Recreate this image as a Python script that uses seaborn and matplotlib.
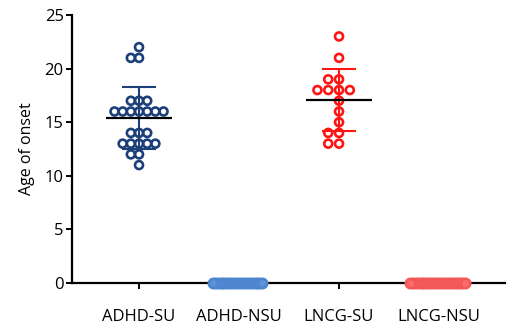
import numpy as np
import pandas as pd
import matplotlib
matplotlib.use("Agg")
import matplotlib.pyplot as plt
import seaborn as sns

# Age of onset per participant, by group
groups = ["ADHD-SU", "ADHD-NSU", "LNCG-SU", "LNCG-NSU"]
adhd_su = [22, 21, 21, 17, 17, 17, 16, 16, 16, 16, 16, 16, 16,
           14, 14, 14, 13, 13, 13, 13, 13, 12, 12, 11]
adhd_nsu = [0, 0, 0, 0, 0, 0, 0, 0, 0, 0, 0, 0, 0, 0, 0, 0, 0, 0]
lncg_su = [23, 21, 19, 19, 18, 18, 18, 18, 17, 16, 15, 14, 14, 13, 13]
lncg_nsu = [0, 0, 0, 0, 0, 0, 0, 0, 0, 0, 0, 0, 0, 0, 0, 0, 0, 0, 0, 0]
y_ticks = [0, 5, 10, 15, 20, 25]

values = {"ADHD-SU": adhd_su, "ADHD-NSU": adhd_nsu,
          "LNCG-SU": lncg_su, "LNCG-NSU": lncg_nsu}
df = pd.DataFrame([(g, v) for g in groups for v in values[g]],
                  columns=["group", "age"])

edge_col = {"ADHD-SU": "#1c3f7a", "ADHD-NSU": "#4d86cf",
            "LNCG-SU": "#ff1414", "LNCG-NSU": "#f25858"}
face_col = {"ADHD-SU": "none", "ADHD-NSU": "#5b92d8",
            "LNCG-SU": "none", "LNCG-NSU": "#ff6b6b"}
# swarm spacing (points) used only to lay out the dots
layout_size = {"ADHD-SU": 5.6, "ADHD-NSU": 2.0,
               "LNCG-SU": 7.4, "LNCG-NSU": 2.0}
# final marker area (points^2)
marker_area = {"ADHD-SU": 33, "ADHD-NSU": 45,
               "LNCG-SU": 33, "LNCG-NSU": 45}

sns.set_theme(style="ticks")
plt.rcParams["font.family"] = ["Open Sans", "DejaVu Sans"]

fig = plt.figure(figsize=(5.09, 3.24), dpi=100)
ax = fig.add_axes([0.1415, 0.1265, 0.8507, 0.8272])

colls = {}
for g in groups:
    n_before = len(ax.collections)
    sns.swarmplot(data=df[df.group == g], x="group", y="age", order=groups,
                  color=edge_col[g], size=layout_size[g], linewidth=0,
                  warn_thresh=1, ax=ax)
    new = [c for c in ax.collections[n_before:] if len(c.get_offsets()) > 0]
    colls[g] = new

ax.set_xlim(-0.67, 3.66)
ax.set_ylim(0, 25)
ax.set_yticks(y_ticks)

# run the swarm layout once, then restyle the dots with their final size
fig.canvas.draw()
for g, cs in colls.items():
    for c in cs:
        if "draw" in vars(c):
            del c.draw
        c.set_sizes([marker_area[g]])
        c.set_linewidths([1.9])
        c.set_edgecolor(edge_col[g])
        c.set_facecolor(face_col[g])
        c.set_clip_on(False)
        c.set_zorder(3)

# mean with SD error bars
for i, g in enumerate(groups):
    v = np.asarray(values[g], dtype=float)
    m, sd = v.mean(), v.std(ddof=1)
    if sd == 0:
        continue
    ax.vlines(i, m - sd, m + sd, color=edge_col[g], lw=1.5, zorder=4)
    ax.hlines([m - sd, m + sd], i - 0.17, i + 0.17, color=edge_col[g],
              lw=1.5, zorder=4)
    ax.hlines(m, i - 0.33, i + 0.33, color="black", lw=1.6, zorder=5)

sns.despine(ax=ax)
for s in ("left", "bottom"):
    ax.spines[s].set_linewidth(1.6)
    ax.spines[s].set_color("black")
ax.tick_params(axis="x", length=4, width=1.4, pad=15, labelsize=12,
               colors="black")
ax.tick_params(axis="y", length=4.5, width=1.4, pad=1.5, labelsize=12,
               colors="black")
ax.set_xlabel("")
ax.set_ylabel("Age of onset", fontsize=11.5, labelpad=7, color="black")

fig.savefig("out.png", dpi=100)
